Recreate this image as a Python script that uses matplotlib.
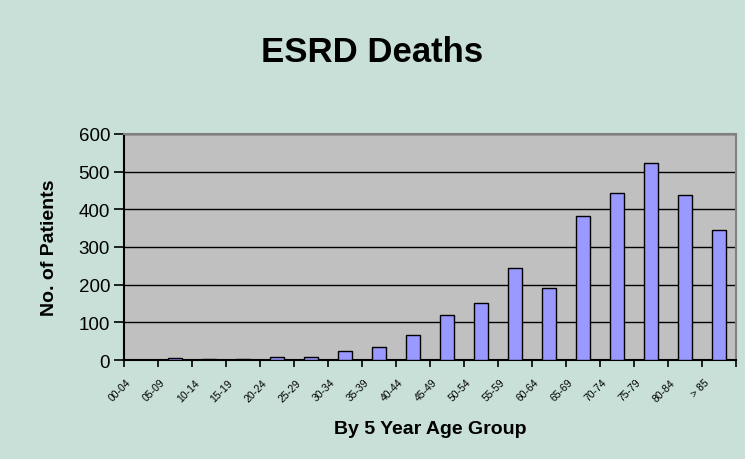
import numpy as np
import matplotlib.pyplot as plt
import matplotlib.transforms as mtransforms
from matplotlib.ticker import FixedLocator, NullFormatter

age_groups = ["00-04", "05-09", "10-14", "15-19", "20-24", "25-29", "30-34", "35-39",
              "40-44", "45-49", "50-54", "55-59", "60-64", "65-69", "70-74", "75-79",
              "80-84", "> 85"]
deaths = [0, 4, 3, 3, 9, 9, 25, 35, 67, 120, 152, 243, 190, 381, 444, 524, 439, 344]

plt.rcParams["font.family"] = ["Liberation Sans", "DejaVu Sans"]

fig = plt.figure(figsize=(7.45, 4.6), dpi=100, facecolor="#C8E0D8")
ax = fig.add_axes([124 / 745, 1 - 361 / 460, 612 / 745, 226 / 460])
ax.set_facecolor("#C0C0C0")

x = np.arange(len(age_groups))
# shadow on the right side of each bar
ax.bar(x + 0.04, deaths, width=0.41, color="black", zorder=2)
ax.bar(x, deaths, width=0.41, color="#9999FF", edgecolor="black", linewidth=1.0, zorder=3)

ax.set_xlim(-0.5, len(age_groups) - 0.5)
ax.set_ylim(0, 600)
ax.set_yticks(range(0, 601, 100))
ax.yaxis.grid(True, color="black", linewidth=1.0, zorder=1)
ax.set_axisbelow(True)

# tick marks between categories, labels drawn as rotated texts
ax.xaxis.set_major_locator(FixedLocator(np.arange(-0.5, len(age_groups), 1.0)))
ax.xaxis.set_major_formatter(NullFormatter())
ax.tick_params(axis="x", which="major", direction="out", length=5, width=1.2)
ax.tick_params(axis="y", direction="out", length=7, width=1.2, labelsize=13.5, pad=3)

shift = mtransforms.ScaledTranslation(-15 / 100, -17 / 100, fig.dpi_scale_trans)
for xi, lab in zip(x, age_groups):
    ax.text(xi, 0, lab, transform=ax.get_xaxis_transform() + shift, rotation=45,
            rotation_mode="anchor", ha="right", va="top", fontsize=7.5)

for side in ["left", "bottom"]:
    ax.spines[side].set_color("black")
    ax.spines[side].set_linewidth(1.5)
for side in ["top", "right"]:
    ax.spines[side].set_color("#808080")
    ax.spines[side].set_linewidth(1.5)

ax.set_ylabel("No. of Patients", fontsize=14, fontweight="bold", va="center")
ax.yaxis.set_label_coords(-74 / 612, 0.5)
ax.set_xlabel("By 5 Year Age Group", fontsize=14, fontweight="bold", va="center")
ax.xaxis.set_label_coords(0.5, -69 / 226)
fig.text(0.5, 1 - 53 / 460, "ESRD Deaths", ha="center", va="center",
         fontsize=25, fontweight="bold")

fig.savefig("out.png", dpi=100, facecolor=fig.get_facecolor())
